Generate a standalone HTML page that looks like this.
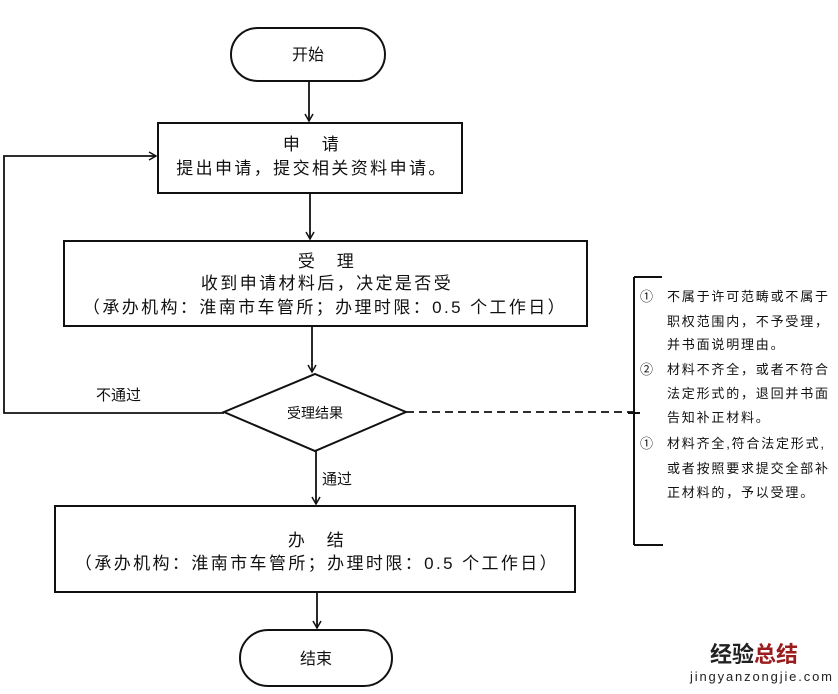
<!DOCTYPE html>
<html><head><meta charset="utf-8"><style>
html,body{margin:0;padding:0;background:#fff;}
text{font-family:"Liberation Sans","Noto Sans CJK SC",sans-serif;fill:#111;}
</style></head><body>
<svg width="838" height="689" viewBox="0 0 838 689" xmlns="http://www.w3.org/2000/svg">
<defs><marker id="a" markerWidth="10" markerHeight="10" refX="8" refY="5" orient="auto" markerUnits="userSpaceOnUse"><path d="M1,1 L8,5 L1,9" fill="none" stroke="#111" stroke-width="1.5"/></marker></defs>
<g stroke="#111" stroke-width="2" fill="none">
<rect x="231" y="28" width="154" height="53" rx="26.5"/>
<rect x="158" y="123" width="304" height="70"/>
<rect x="64" y="241" width="523" height="85"/>
<polygon points="315,374 406,412 315,451 224,412"/>
<rect x="55" y="506" width="520" height="86"/>
<rect x="240" y="630" width="152" height="56" rx="28"/>
<path d="M634,277 V545 M634,277 H662 M634,545 H663 M628,413 H640"/>
</g>
<g stroke="#111" stroke-width="1.8" fill="none">
<line x1="309" y1="81" x2="309" y2="121" marker-end="url(#a)"/>
<line x1="310" y1="193" x2="310" y2="239" marker-end="url(#a)"/>
<line x1="312" y1="326" x2="312" y2="372" marker-end="url(#a)"/>
<line x1="316" y1="451" x2="316" y2="504" marker-end="url(#a)"/>
<line x1="317" y1="592" x2="317" y2="628" marker-end="url(#a)"/>
<polyline points="224,413 4,413 4,156 156,156" marker-end="url(#a)"/>
<line x1="406" y1="412" x2="634" y2="412" stroke-dasharray="8,5"/>
</g>
<g font-size="16" text-anchor="middle">
<text x="308" y="60">开始</text>
<text x="312" y="150" font-size="17" letter-spacing="2.4">申　请</text>
<text x="312" y="174" font-size="17" letter-spacing="2.4">提出申请，提交相关资料申请。</text>
<text x="327" y="267" font-size="17" letter-spacing="2.4">受　理</text>
<text x="327" y="289" font-size="17" letter-spacing="2.4">收到申请材料后，决定是否受</text>
<text x="325" y="313" font-size="17" letter-spacing="2.4">（承办机构：淮南市车管所；办理时限：0.5 个工作日）</text>
<text x="315" y="418" font-size="14">受理结果</text>
<text x="317" y="546" font-size="17" letter-spacing="2.4">办　结</text>
<text x="317" y="569" font-size="17" letter-spacing="2.4">（承办机构：淮南市车管所；办理时限：0.5 个工作日）</text>
<text x="316" y="664">结束</text>
</g>
<text x="96" y="400" font-size="15">不通过</text>
<text x="322" y="484" font-size="15">通过</text>
<g font-size="13" letter-spacing="1.8">
<text x="640" y="301" letter-spacing="0">①</text>
<text x="667" y="301">不属于许可范畴或不属于</text>
<text x="667" y="326">职权范围内，不予受理，</text>
<text x="667" y="349">并书面说明理由。</text>
<text x="640" y="374" letter-spacing="0">②</text>
<text x="667" y="374">材料不齐全，或者不符合</text>
<text x="667" y="398">法定形式的，退回并书面</text>
<text x="667" y="422">告知补正材料。</text>
<text x="640" y="448" letter-spacing="0">①</text>
<text x="667" y="448">材料齐全,符合法定形式,</text>
<text x="667" y="473">或者按照要求提交全部补</text>
<text x="667" y="497">正材料的，予以受理。</text>
</g>
<text x="710" y="662" font-size="22" font-weight="bold" fill="#222" style="fill:#222">经验<tspan style="fill:#9b1c1c">总结</tspan></text>
<text x="690" y="681" font-size="13" style="fill:#222" textLength="142">jingyanzongjie.com</text>
</svg>
</body></html>
